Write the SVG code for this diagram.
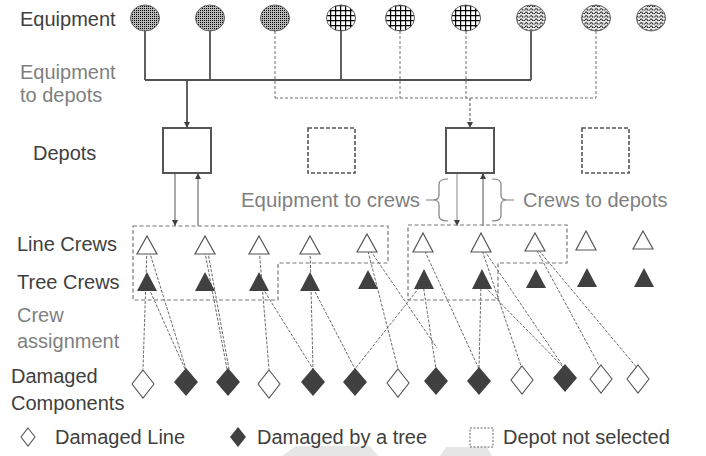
<svg xmlns="http://www.w3.org/2000/svg" width="706" height="456" viewBox="0 0 706 456">
<defs>
<style>
.t{font-family:"Liberation Sans",Arial,sans-serif;font-size:20px;fill:#404040}
.g{fill:#7f7f7f}
.eq{stroke:#666;stroke-width:1}
.solid{stroke:#505050;stroke-width:1.8;fill:none}
.dash{stroke:#707070;stroke-width:1;stroke-dasharray:3 2;fill:none}
.arr{stroke:#555;stroke-width:1;fill:none}
.asg{stroke:#444;stroke-width:0.8;stroke-dasharray:3 1.5;fill:none}
.lc{fill:#fff;stroke:#555;stroke-width:1.2}
.tc{fill:#404040}
.dw{fill:#fff;stroke:#555;stroke-width:1.1}
.df{fill:#404040}
.box{fill:none;stroke:#777;stroke-width:1.2;stroke-dasharray:4 2.5}
.dep{fill:#fff;stroke:#555;stroke-width:2}
.depx{fill:#fff;stroke:#555;stroke-width:1.6;stroke-dasharray:4 2}
.brace{fill:none;stroke:#7f7f7f;stroke-width:1.2}
</style>
<pattern id="dots" width="2" height="2" patternUnits="userSpaceOnUse"><rect width="2" height="2" fill="#b8b8b8"/><rect width="1" height="1" fill="#000"/></pattern>
<pattern id="grid" width="5" height="5" patternUnits="userSpaceOnUse"><rect width="5" height="5" fill="#fff"/><path d="M0,0.6H5M0.6,0V5" stroke="#000" stroke-width="1.2"/></pattern>
<pattern id="wave" width="5" height="3.5" patternUnits="userSpaceOnUse"><rect width="5" height="3.5" fill="#e8e8e8"/><path d="M0,2.6 Q1.25,0.4 2.5,2.6 T5,2.6" fill="none" stroke="#000" stroke-width="0.9"/></pattern>
<marker id="ah" viewBox="0 0 10 10" refX="10" refY="5" markerWidth="6" markerHeight="6" orient="auto" markerUnits="userSpaceOnUse"><path d="M0,0 L10,5 L0,10 z" fill="#404040"/></marker>
</defs>

<g id="watermark" fill="#e6e6e6">
<polygon points="282,456 296,446 370,446 378,456"/>
<polygon points="440,456 446,447 487,447 492,456"/>
</g>

<g id="labels">
<text class="t" x="20" y="26">Equipment</text>
<text class="t g" x="20" y="79">Equipment</text>
<text class="t g" x="20" y="102">to depots</text>
<text class="t" x="33" y="160">Depots</text>
<text class="t" x="17" y="251">Line Crews</text>
<text class="t" x="17" y="289">Tree Crews</text>
<text class="t g" x="17" y="322">Crew</text>
<text class="t g" x="17" y="348">assignment</text>
<text class="t" x="11" y="383">Damaged</text>
<text class="t" x="11" y="410">Components</text>
<text class="t g" x="241" y="207" style="font-size:20.4px">Equipment to crews</text>
<text class="t g" x="523" y="207">Crews to depots</text>
</g>

<g id="connectors">
<path class="solid" d="M145,31V80M210,31V80M341,31V80M531,31V80M145,80H531"/>
<path class="solid" d="M187,80V128" marker-end="url(#ah)"/>
<path class="dash" d="M275,31V98M400,31V98M466,31V98M596,31V98M275,98H596"/>
<path class="dash" style="stroke:#505050" d="M470,98V128" marker-end="url(#ah)"/>
<path class="arr" d="M175,173V226" marker-end="url(#ah)"/>
<path class="arr" d="M198,226V173" marker-end="url(#ah)"/>
<path class="arr" style="stroke:#888" d="M457,173V226" marker-end="url(#ah)"/>
<path class="arr" d="M483,226V173" marker-end="url(#ah)"/>
<path class="brace" d="M448,179Q439,179 439,184V195Q439,200 433,200Q439,200 439,205V216Q439,221 448,221M426,200H433"/>
<path class="brace" d="M492,179Q501,179 501,184V195Q501,200 507,200Q501,200 501,205V216Q501,221 492,221M507,200H514"/>
<g class="asg">
<path d="M147,247L143,369"/>
<path d="M148,247L186,369"/>
<path d="M147,284L185,369"/>
<path d="M204,247L227,369"/>
<path d="M207,247L229,369"/>
<path d="M259,247L269,369"/>
<path d="M260,284L313,369"/>
<path d="M310,247L313,369"/>
<path d="M311,284L355,369"/>
<path d="M367,247L398,369"/>
<path d="M368,247L437,348"/>
<path d="M422,284L355,369"/>
<path d="M423,284L436,369"/>
<path d="M423,247L479,369"/>
<path d="M481,284L479,369"/>
<path d="M482,284L565,369"/>
<path d="M481,247L522,369"/>
<path d="M482,247L565,369"/>
<path d="M535,247L601,369"/>
<path d="M536,247L638,369"/>
</g>
</g>

<g id="equipment">
<g id="eq1"><ellipse class="eq" cx="145" cy="18" rx="14.5" ry="13" fill="url(#dots)"/></g>
<g id="eq2"><ellipse class="eq" cx="210" cy="18" rx="14.5" ry="13" fill="url(#dots)"/></g>
<g id="eq3"><ellipse class="eq" cx="275" cy="18" rx="14.5" ry="13" fill="url(#dots)"/></g>
<g id="eq4"><ellipse class="eq" cx="341" cy="18" rx="14.5" ry="13" fill="url(#grid)"/></g>
<g id="eq5"><ellipse class="eq" cx="400" cy="18" rx="14.5" ry="13" fill="url(#grid)"/></g>
<g id="eq6"><ellipse class="eq" cx="466" cy="18" rx="14.5" ry="13" fill="url(#grid)"/></g>
<g id="eq7"><ellipse class="eq" cx="531" cy="18" rx="14.5" ry="13" fill="url(#wave)"/></g>
<g id="eq8"><ellipse class="eq" cx="596" cy="18" rx="14.5" ry="13" fill="url(#wave)"/></g>
<g id="eq9"><ellipse class="eq" cx="651" cy="18" rx="14.5" ry="13" fill="url(#wave)"/></g>
</g>

<g id="depots">
<g id="depot1"><rect class="dep" x="163" y="128" width="48" height="45"/></g>
<g id="depot2"><rect class="depx" x="308" y="128" width="47" height="45"/></g>
<g id="depot3"><rect class="dep" x="446" y="128" width="48" height="45"/></g>
<g id="depot4"><rect class="depx" x="582" y="128" width="47" height="45"/></g>
</g>

<g id="crew-group1"><polygon class="box" points="133,226 388,226 388,263 278,263 278,300 133,300"/></g>
<g id="crew-group2"><polygon class="box" points="408,225 567,225 567,263 498,263 498,300 408,300"/></g>

<g id="line-crews">
<g id="lc1"><polygon class="lc" points="147,236 157,254 137,254"/></g>
<g id="lc2"><polygon class="lc" points="205,236 215,254 195,254"/></g>
<g id="lc3"><polygon class="lc" points="259,236 269,254 249,254"/></g>
<g id="lc4"><polygon class="lc" points="310,236 320,254 300,254"/></g>
<g id="lc5"><polygon class="lc" points="367,234 377,252 357,252"/></g>
<g id="lc6"><polygon class="lc" points="423,233 433,252 413,252"/></g>
<g id="lc7"><polygon class="lc" points="481,233 491,252 471,252"/></g>
<g id="lc8"><polygon class="lc" points="535,233 545,251 525,251"/></g>
<g id="lc9"><polygon class="lc" points="586,231 596,250 576,250"/></g>
<g id="lc10"><polygon class="lc" points="643,231 653,249 633,249"/></g>
</g>

<g id="tree-crews">
<g id="tc1"><polygon class="tc" points="147,272 157,291 137,291"/></g>
<g id="tc2"><polygon class="tc" points="205,272 215,291 195,291"/></g>
<g id="tc3"><polygon class="tc" points="259,272 269,291 249,291"/></g>
<g id="tc4"><polygon class="tc" points="310,272 320,291 300,291"/></g>
<g id="tc5"><polygon class="tc" points="368,270 378,289 358,289"/></g>
<g id="tc6"><polygon class="tc" points="424,269 434,289 414,289"/></g>
<g id="tc7"><polygon class="tc" points="482,269 492,289 472,289"/></g>
<g id="tc8"><polygon class="tc" points="536,269 546,288 526,288"/></g>
<g id="tc9"><polygon class="tc" points="587,268 597,287 577,287"/></g>
<g id="tc10"><polygon class="tc" points="644,268 654,287 634,287"/></g>
</g>

<g id="components">
<g id="d1"><polygon class="dw" points="143,370 154,384 143,398 132,384"/></g>
<g id="d2"><polygon class="df" points="186,368 198,382 186,396 174,382"/></g>
<g id="d3"><polygon class="df" points="228,368 240,382 228,396 216,382"/></g>
<g id="d4"><polygon class="dw" points="269,370 280,384 269,398 258,384"/></g>
<g id="d5"><polygon class="df" points="313,368 325,382 313,396 301,382"/></g>
<g id="d6"><polygon class="df" points="355,368 367,382 355,396 343,382"/></g>
<g id="d7"><polygon class="dw" points="398,369 409,383 398,397 387,383"/></g>
<g id="d8"><polygon class="df" points="436,367 448,381 436,395 424,381"/></g>
<g id="d9"><polygon class="df" points="479,367 491,381 479,395 467,381"/></g>
<g id="d10"><polygon class="dw" points="522,366 533,380 522,394 511,380"/></g>
<g id="d11"><polygon class="df" points="565,364 577,378 565,392 553,378"/></g>
<g id="d12"><polygon class="dw" points="601,365 612,379 601,393 590,379"/></g>
<g id="d13"><polygon class="dw" points="638,365 649,379 638,393 627,379"/></g>
</g>

<g id="legend">
<polygon class="dw" points="28,428 35,437 28,446 21,437"/>
<text class="t" x="55" y="444">Damaged Line</text>
<polygon class="df" points="238,427 246,437 238,447 230,437"/>
<text class="t" x="257" y="444">Damaged by a tree</text>
<rect x="470" y="428" width="23" height="19" fill="none" stroke="#666" stroke-width="1" stroke-dasharray="2 1.5"/>
<text class="t" x="503" y="444">Depot not selected</text>
</g>
</svg>
